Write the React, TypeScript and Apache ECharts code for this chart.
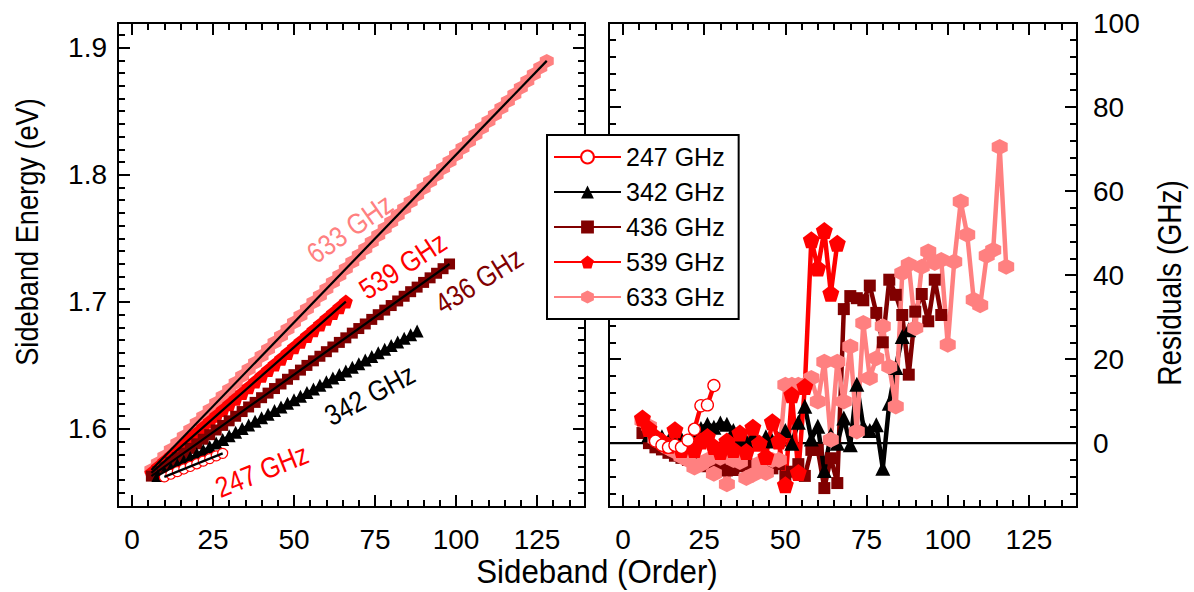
import React, { useEffect, useRef } from "react";
import * as echarts from "echarts";

// ---------- DATA ----------
const orders247 = [10, 12, 14, 16, 18, 20, 22, 24, 26, 28];
const energy247 = [1.5623, 1.5644, 1.5664, 1.5685, 1.5705, 1.5726, 1.5747, 1.5767, 1.5788, 1.5808];
const resid247 = [0.5, -0.5, -1, -0.5, -1, 0.7, 3.3, 8.9, 9.1, 13.7];

const orders342 = [8, 10, 12, 14, 16, 18, 20, 22, 24, 26, 28, 30, 32, 34, 36, 38, 40, 42, 44, 46, 48, 50, 52, 54, 56, 58, 60, 62, 64, 66, 68, 70, 72, 74, 76, 78, 80, 82, 84, 86, 88];
const energy342 = [1.5634, 1.5662, 1.569, 1.5719, 1.5747, 1.5776, 1.5804, 1.5832, 1.5861, 1.5889, 1.5918, 1.5946, 1.5974, 1.6003, 1.6031, 1.606, 1.6088, 1.6116, 1.6145, 1.6173, 1.6202, 1.623, 1.6258, 1.6287, 1.6315, 1.6344, 1.6372, 1.64, 1.6429, 1.6457, 1.6486, 1.6514, 1.6542, 1.6571, 1.6599, 1.6628, 1.6656, 1.6684, 1.6713, 1.6741, 1.677];
const resid342 = [2, 1.5, 1.5, 0.5, 0, 1, -0.5, 0.5, 3.5, 4.5, 3.8, 4.8, 4.5, 3, 1, 0.5, 1.5, 0, 1.5, 0.5, 1, 3, 0, 5, 8.8, 1, 4, -6.5, 2, 0, 6, -0.4, 14, 4, 3, 4.4, -6, 9.5, 18, 25.4, 27];

const orders436 = [6, 8, 10, 12, 14, 16, 18, 20, 22, 24, 26, 28, 30, 32, 34, 36, 38, 40, 42, 44, 46, 48, 50, 52, 54, 56, 58, 60, 62, 64, 66, 68, 70, 72, 74, 76, 78, 80, 82, 84, 86, 88, 90, 92, 94, 96, 98];
const energy436 = [1.5629, 1.5665, 1.5701, 1.5738, 1.5774, 1.581, 1.5847, 1.5883, 1.5919, 1.5955, 1.5992, 1.6028, 1.6064, 1.61, 1.6137, 1.6173, 1.6209, 1.6246, 1.6282, 1.6318, 1.6354, 1.6391, 1.6427, 1.6463, 1.65, 1.6536, 1.6572, 1.6608, 1.6645, 1.6681, 1.6717, 1.6754, 1.679, 1.6826, 1.6862, 1.6899, 1.6935, 1.6971, 1.7007, 1.7044, 1.708, 1.7116, 1.7153, 1.7189, 1.7225, 1.7261, 1.7298];
const resid436 = [2.4, 0, -1, -1.5, -2.3, -3, -3.5, -4, -4.5, -5, -5.5, -6.4, -6, -6.5, -6.4, -5.5, -5, -6, -5.5, -4, -6, -5, -8, -6.8, -5, -7.8, -1.6, -1.6, -10.7, -3.6, -9.5, 31.9, 35, 34.5, 34, 37.5, 31, 24, 38.9, 35.3, 30.5, 16.3, 31.3, 35.5, 29, 38.9, 30.5];

const orders539 = [6, 8, 10, 12, 14, 16, 18, 20, 22, 24, 26, 28, 30, 32, 34, 36, 38, 40, 42, 44, 46, 48, 50, 52, 54, 56, 58, 60, 62, 64, 66];
const energy539 = [1.5655, 1.57, 1.5745, 1.5789, 1.5834, 1.5879, 1.5924, 1.5969, 1.6014, 1.6059, 1.6104, 1.6149, 1.6194, 1.6238, 1.6283, 1.6328, 1.6373, 1.6418, 1.6463, 1.6508, 1.6553, 1.6598, 1.6643, 1.6687, 1.6732, 1.6777, 1.6822, 1.6867, 1.6912, 1.6957, 1.7002];
const resid539 = [6, 3.5, 1.5, 0.5, -0.5, 3.2, -1.5, -0.4, -1.5, 0.5, 1.6, -0.8, -2, 0.5, -1.5, 2.4, -2, 3.8, 0, -3.2, 5.1, 0.5, -9.9, 11.5, -7, 13.5, 48.4, 41.7, 50.6, 35.7, 47.6];

const orders633 = [6, 8, 10, 12, 14, 16, 18, 20, 22, 24, 26, 28, 30, 32, 34, 36, 38, 40, 42, 44, 46, 48, 50, 52, 54, 56, 58, 60, 62, 64, 66, 68, 70, 72, 74, 76, 78, 80, 82, 84, 86, 88, 90, 92, 94, 96, 98, 100, 102, 104, 106, 108, 110, 112, 114, 116, 118, 120, 122, 124, 126, 128];
const energy633 = [1.5677, 1.573, 1.5783, 1.5836, 1.5888, 1.5941, 1.5994, 1.6047, 1.6099, 1.6152, 1.6205, 1.6258, 1.631, 1.6363, 1.6416, 1.6469, 1.6521, 1.6574, 1.6627, 1.668, 1.6732, 1.6785, 1.6838, 1.6891, 1.6944, 1.6996, 1.7049, 1.7102, 1.7155, 1.7207, 1.726, 1.7313, 1.7366, 1.7418, 1.7471, 1.7524, 1.7577, 1.7629, 1.7682, 1.7735, 1.7788, 1.784, 1.7893, 1.7946, 1.7999, 1.8051, 1.8104, 1.8157, 1.821, 1.8262, 1.8315, 1.8368, 1.8421, 1.8473, 1.8526, 1.8579, 1.8632, 1.8684, 1.8737, 1.879, 1.8843, 1.8896];
const residOrders633 = [6, 8, 10, 12, 14, 16, 18, 20, 22, 24, 26, 28, 30, 32, 34, 36, 38, 40, 42, 44, 46, 48, 50, 52, 54, 56, 58, 60, 62, 64, 66, 68, 70, 72, 74, 76, 78, 80, 82, 84, 86, 88, 90, 92, 94, 96, 98, 100, 102, 104, 106, 108, 110, 112, 114, 116, 118];
const resid633 = [5.3, 4, 1, 0, -1.2, -2, -3.2, -4, -5.8, -5, -4, -7.3, -3.5, -9.8, -4, -4.5, -8.3, -7.5, -4.8, -7.1, -4, -4, 13.9, 13.9, 13.9, 13.9, 15.5, 9.9, 19.4, 0.8, 19.4, 9.9, 23, 2.8, 28.6, 15.5, 20.2, 27.8, 18.2, 8.7, 40.5, 42.5, 27.4, 42, 45.6, 42.9, 43.6, 23.4, 43.2, 57.5, 49.6, 34.1, 32.8, 44.6, 46, 70.5, 42];

const seriesNames = ["247 GHz", "342 GHz", "436 GHz", "539 GHz", "633 GHz"];

const xMajorTicks = [0, 25, 50, 75, 100, 125];
const xMinorTicks = [5, 10, 15, 20, 30, 35, 40, 45, 55, 60, 65, 70, 80, 85, 90, 95, 105, 110, 115, 120, 130, 135];
const yLeftMajorTicks = [1.6, 1.7, 1.8, 1.9];
const yLeftMinorTicks = [1.55, 1.56, 1.57, 1.58, 1.59, 1.61, 1.62, 1.63, 1.64, 1.65, 1.66, 1.67, 1.68, 1.69, 1.71, 1.72, 1.73, 1.74, 1.75, 1.76, 1.77, 1.78, 1.79, 1.81, 1.82, 1.83, 1.84, 1.85, 1.86, 1.87, 1.88, 1.89, 1.91];
const yRightMajorTicks = [0, 20, 40, 60, 80, 100];
const yRightMinorTicks = [-12, -8, -4, 4, 8, 12, 16, 24, 28, 32, 36, 44, 48, 52, 56, 64, 68, 72, 76, 84, 88, 92, 96];

const seriesLabels = ["633 GHz", "539 GHz", "436 GHz", "342 GHz", "247 GHz"];

// ---------- STYLE ----------
const FONT = "'Liberation Sans', Arial, Helvetica, sans-serif";
const NARROW = 0.85;
const X_MIN = -4.3, X_MAX = 139.8;
const Y1_MIN = 1.5386, Y1_MAX = 1.9194;
const Y2_MIN = -15.2, Y2_MAX = 100;

const C247 = "#ff0000", C342 = "#000000", C436 = "#800000", C539 = "#ff0000", C633 = "#ff8080";
const PENTAGON = "path://M10,0 L19.51,6.91 L15.88,18.09 L4.12,18.09 L0.49,6.91 Z";
const HEXAGON = "path://M8.66,0 L17.32,5 L17.32,15 L8.66,20 L0,15 L0,5 Z";

const pairs = (xs: number[], ys: number[]) => xs.map((x, i) => [x, ys[i]]);

function axis(gridIndex: number, position: string, min: number, max: number, values: number[], len: number, label: any) {
  return {
    type: "value",
    gridIndex,
    position,
    min,
    max,
    axisLine: { show: false, onZero: false },
    splitLine: { show: false },
    axisTick: { show: true, inside: true, length: len, lineStyle: { color: "#000", width: 2 }, customValues: values },
    axisLabel: label
      ? { show: true, customValues: values, color: "#000", fontFamily: FONT, fontSize: 28, ...label }
      : { show: false },
  };
}

export default function App() {
  const ref = useRef<HTMLDivElement>(null);
  useEffect(() => {
    if (!ref.current) return;
    const chart = echarts.init(ref.current, null, { renderer: "svg" });

    const xAxis: any[] = [];
    const yAxis: any[] = [];
    [0, 1].forEach((g) => {
      xAxis.push(axis(g, "bottom", X_MIN, X_MAX, xMajorTicks, 12, { margin: 18 }));
      xAxis.push(axis(g, "bottom", X_MIN, X_MAX, xMinorTicks, 7, null));
      xAxis.push(axis(g, "top", X_MIN, X_MAX, xMajorTicks, 12, null));
      xAxis.push(axis(g, "top", X_MIN, X_MAX, xMinorTicks, 7, null));
    });
    yAxis.push(axis(0, "left", Y1_MIN, Y1_MAX, yLeftMajorTicks, 12, { margin: 11 }));
    yAxis.push(axis(0, "left", Y1_MIN, Y1_MAX, yLeftMinorTicks, 7, null));
    yAxis.push(axis(0, "right", Y1_MIN, Y1_MAX, yLeftMajorTicks, 12, null));
    yAxis.push(axis(0, "right", Y1_MIN, Y1_MAX, yLeftMinorTicks, 7, null));
    yAxis.push(axis(1, "left", Y2_MIN, Y2_MAX, yRightMajorTicks, 12, null));
    yAxis.push(axis(1, "left", Y2_MIN, Y2_MAX, yRightMinorTicks, 7, null));
    yAxis.push(axis(1, "right", Y2_MIN, Y2_MAX, yRightMajorTicks, 12, { margin: 16 }));
    yAxis.push(axis(1, "right", Y2_MIN, Y2_MAX, yRightMinorTicks, 7, null));

    const scatter = (name: string, xs: number[], ys: number[], symbol: string, size: number, color: string, hollow = false) => ({
      name,
      type: "scatter",
      xAxisIndex: 0,
      yAxisIndex: 0,
      symbol,
      symbolSize: size,
      itemStyle: hollow ? { color: "#fff", borderColor: color, borderWidth: 1.2, opacity: 1 } : { color, opacity: 1 },
      data: pairs(xs, ys),
      z: 2,
    });
    const fit = (xs: number[], ys: number[]) => ({
      type: "line",
      xAxisIndex: 0,
      yAxisIndex: 0,
      symbol: "none",
      silent: true,
      lineStyle: { color: "#000", width: 2.2 },
      data: [
        [xs[0], ys[0]],
        [xs[xs.length - 1], ys[ys.length - 1]],
      ],
      z: 3,
    });
    const resid = (name: string, xs: number[], ys: number[], symbol: string, size: number, color: string, hollow = false) => ({
      name,
      type: "line",
      xAxisIndex: 4,
      yAxisIndex: 4,
      symbol,
      symbolSize: size,
      showAllSymbol: true,
      color,
      lineStyle: { color, width: 4.5 },
      itemStyle: hollow ? { color: "#fff", borderColor: color, borderWidth: 1.3 } : { color, borderWidth: 0 },
      data: pairs(xs, ys),
      z: 2,
    });

    const series: any[] = [
      scatter("633 GHz energy", orders633, energy633, HEXAGON, 14, C633),
      scatter("539 GHz energy", orders539, energy539, PENTAGON, 14, C539),
      scatter("436 GHz energy", orders436, energy436, "rect", 11, C436),
      scatter("342 GHz energy", orders342, energy342, "triangle", 13, C342),
      scatter("247 GHz energy", orders247, energy247, "circle", 10, C247, true),
      fit(orders633, energy633),
      fit(orders539, energy539),
      fit(orders436, energy436),
      fit(orders342, energy342),
      fit(orders247, energy247),
      {
        name: "zero",
        type: "line",
        xAxisIndex: 4,
        yAxisIndex: 4,
        symbol: "none",
        silent: true,
        lineStyle: { color: "#000", width: 2.2 },
        data: [
          [X_MIN, 0],
          [X_MAX, 0],
        ],
        z: 1,
      },
      resid(seriesNames[2], orders436, resid436, "rect", 12, C436),
      resid(seriesNames[1], orders342, resid342, "triangle", 15, C342),
      resid(seriesNames[4], residOrders633, resid633, HEXAGON, 16, C633),
      resid(seriesNames[3], orders539, resid539, PENTAGON, 17, C539),
      resid(seriesNames[0], orders247, resid247, "circle", 12, C247, true),
    ];

    const text = (t: string, x: number, y: number, deg: number, color: string, size: number, sx = NARROW) => ({
      type: "text",
      x,
      y,
      rotation: (deg * Math.PI) / 180,
      scaleX: sx,
      style: { text: t, fill: color, font: `${size}px ${FONT}`, align: "center", verticalAlign: "middle" },
      z: 20,
    });

    chart.setOption({
      animation: false,
      backgroundColor: "#fff",
      grid: [
        { left: 118, top: 23, width: 467, height: 484, show: true, borderColor: "#000", borderWidth: 2, backgroundColor: "transparent" },
        { left: 609, top: 23, width: 468, height: 484, show: true, borderColor: "#000", borderWidth: 2, backgroundColor: "transparent" },
      ],
      xAxis,
      yAxis,
      legend: {
        data: seriesNames,
        orient: "vertical",
        left: 547,
        top: 135,
        backgroundColor: "#fff",
        borderColor: "#000",
        borderWidth: 2,
        borderRadius: 0,
        padding: [8, 14, 8, 6],
        itemWidth: 67,
        itemHeight: 16,
        itemGap: 7,
        selectedMode: false,
        textStyle: { fontSize: 25, lineHeight: 28, color: "#000", fontFamily: FONT },
        z: 10,
      },
      graphic: [
        text("Sideband Energy (eV)", 27, 232, 90, "#000", 32),
        text("Residuals (GHz)", 1169, 283, 90, "#000", 33),
        text("Sideband (Order)", 597, 571, 0, "#000", 34, 0.92),
        text(seriesLabels[0], 350, 229, 35, C633, 29),
        text(seriesLabels[1], 403, 266, 33, C539, 29),
        text(seriesLabels[2], 479, 281, 32, C436, 29),
        text(seriesLabels[3], 370, 395, 28, C342, 29),
        text(seriesLabels[4], 262, 471, 22, C247, 29),
      ],
      series,
    });

    return () => chart.dispose();
  }, []);

  return <div ref={ref} style={{ position: "fixed", left: 0, top: 0, width: 1194, height: 592 }} />;
}
